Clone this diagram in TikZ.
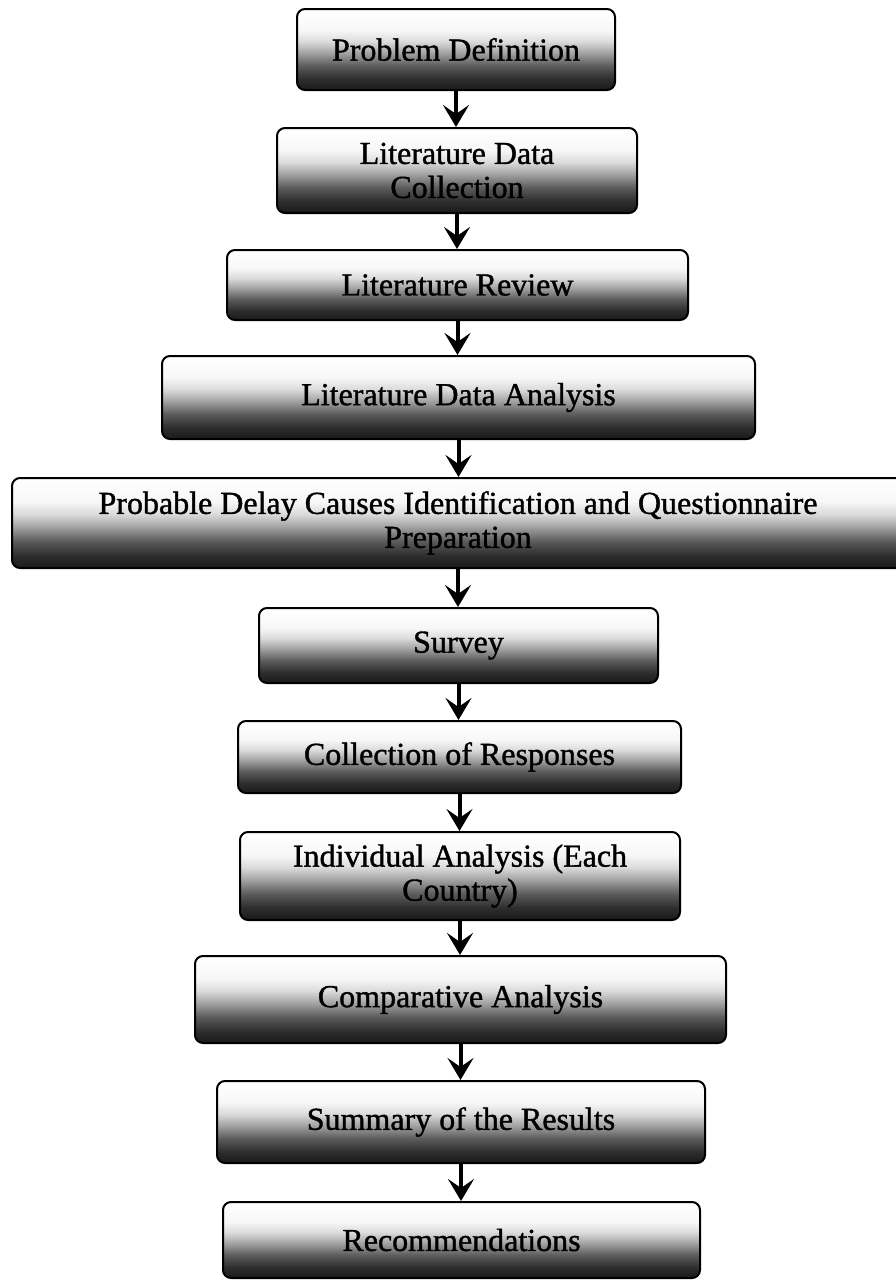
\documentclass[tikz,border=0pt]{standalone}
\usepackage{fontspec}
\setmainfont{Liberation Serif}[FakeBold=1.2]
\usetikzlibrary{arrows.meta}
\pgfdeclareverticalshading{boxgrad}{100bp}{color(0bp)=(black!90); color(25bp)=(black!90); color(32bp)=(black!82); color(40bp)=(black!64); color(48bp)=(black!36); color(55bp)=(black!14); color(62bp)=(black!3); color(75bp)=(white); color(100bp)=(white)}
\begin{document}
\begin{tikzpicture}[x=1pt,y=-1pt,
  stepbox/.style={draw=black, line width=2pt, rounded corners=8pt, shading=boxgrad,
    inner sep=0pt, align=center, font=\fontsize{32}{34}\selectfont},
  arr/.style={line width=4pt, -{Stealth[length=22pt,width=26pt,inset=9pt]}}]
\useasboundingbox (0,0) rectangle (896,1280);
\clip (0,0) rectangle (896,1280);
\node[stepbox, minimum width=318pt, minimum height=81pt] (b1) at (456,49.5) {Problem Definition};
\node[stepbox, minimum width=360pt, minimum height=85pt] (b2) at (457,170.5) {Literature Data\\Collection};
\node[stepbox, minimum width=461pt, minimum height=70pt] (b3) at (457.5,285) {Literature Review};
\node[stepbox, minimum width=593pt, minimum height=83pt] (b4) at (458.5,397.5) {Literature Data Analysis};
\node[stepbox, minimum width=892pt, minimum height=90pt] (b5) at (458,523) {Probable Delay Causes Identification and Questionnaire\\Preparation};
\node[stepbox, minimum width=399pt, minimum height=75pt] (b6) at (458.5,645.5) {Survey};
\node[stepbox, minimum width=443pt, minimum height=72pt] (b7) at (459.5,757) {Collection of Responses};
\node[stepbox, minimum width=440pt, minimum height=88pt] (b8) at (460,876) {Individual Analysis (Each\\Country)};
\node[stepbox, minimum width=531pt, minimum height=87pt] (b9) at (460.5,999.5) {Comparative Analysis};
\node[stepbox, minimum width=488pt, minimum height=82pt] (b10) at (461,1122) {Summary of the Results};
\node[stepbox, minimum width=477pt, minimum height=76pt] (b11) at (461.5,1240) {Recommendations};
\foreach \a/\b in {b1/b2,b2/b3,b3/b4,b4/b5,b5/b6,b6/b7,b7/b8,b8/b9,b9/b10,b10/b11}{
  \draw[arr] (\a.south) -- (\a.south |- \b.north);
}
\end{tikzpicture}
\end{document}
